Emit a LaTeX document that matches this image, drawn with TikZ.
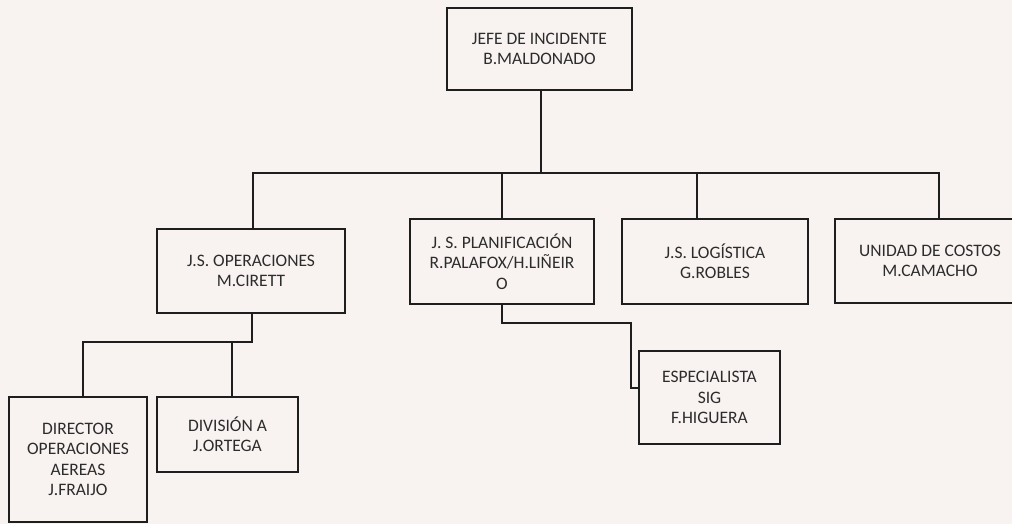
\documentclass[tikz,border=0pt]{standalone}
\usepackage{fontspec}
\setmainfont{Carlito}
\definecolor{paper}{HTML}{F8F3F1}
\definecolor{ink}{HTML}{1E1E1E}
\definecolor{txt}{HTML}{2C2C2C}
\begin{document}
\begin{tikzpicture}[x=1pt,y=-1pt,
  orgbox/.style={draw=ink,line width=2.5pt,rectangle,inner sep=0pt,align=center,
    text=txt,font=\fontsize{17.5}{20.5}\selectfont},
  link/.style={draw=ink,line width=1.1pt}]
\fill[paper] (0,0) rectangle (1012,524);
\useasboundingbox (0,0) rectangle (1012,524);
\node[orgbox,minimum width=185,minimum height=82] (jefe) at (539.5,49) {JEFE DE INCIDENTE\\B.MALDONADO};
\node[orgbox,minimum width=188,minimum height=84] (ops) at (251,271) {J.S. OPERACIONES\\M.CIRETT};
\node[orgbox,minimum width=184,minimum height=85] (plan) at (502,261.5) {J. S. PLANIFICACIÓN\\R.PALAFOX/H.LIÑEIR\\O};
\node[orgbox,minimum width=186,minimum height=85] (log) at (715,261.5) {J.S. LOGÍSTICA\\G.ROBLES};
\node[orgbox,minimum width=190,minimum height=84] (cost) at (930,261) {UNIDAD DE COSTOS\\M.CAMACHO};
\node[orgbox,minimum width=138,minimum height=125] (dir) at (78,459.5) {DIRECTOR\\OPERACIONES\\AEREAS\\J.FRAIJO};
\node[orgbox,minimum width=141,minimum height=75] (div) at (227.5,434.5) {DIVISIÓN A\\J.ORTEGA};
\node[orgbox,minimum width=141,minimum height=93] (esp) at (709.5,397.5) {ESPECIALISTA\\SIG\\F.HIGUERA};
\coordinate (bus) at (541,173);
\coordinate (opsbus) at (252,342);
\coordinate (espbend) at (631,323);
\draw[link] ([xshift=1.5]jefe.south) -- (bus);
\draw[link] ([xshift=2]ops.north) |- ([xshift=-18]log.north |- bus) -- ([xshift=9]cost.north |- bus) -- ([xshift=9]cost.north);
\draw[link] (plan.north) -- (plan.north |- bus);
\draw[link] ([xshift=-18]log.north) -- ([xshift=-18]log.north |- bus);
\draw[link] ([xshift=1]ops.south) -- (opsbus) -| ([xshift=5]dir.north);
\draw[link] ([xshift=4.5]div.north) -- ([xshift=4.5]div.north |- opsbus);
\draw[link] (plan.south) |- (espbend) |- ([yshift=9.5]esp.west);
\end{tikzpicture}
\end{document}
